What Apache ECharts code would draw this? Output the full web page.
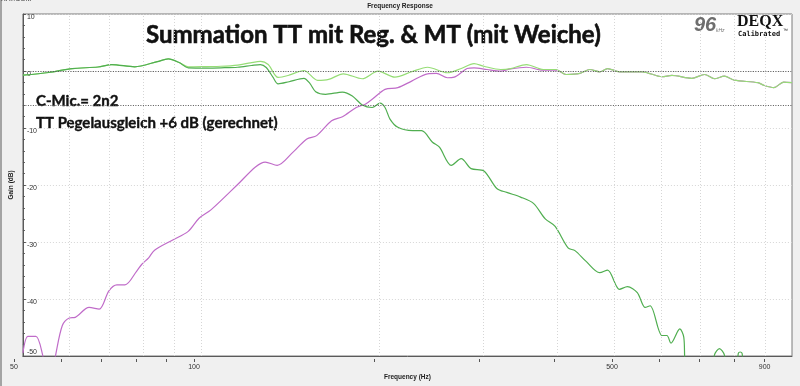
<!DOCTYPE html>
<html><head><meta charset="utf-8">
<script src="https://cdn.jsdelivr.net/npm/echarts@6/dist/echarts.min.js"></script>
<style>html,body{margin:0;padding:0;background:#f0f0f0;}#c{width:800px;height:386px;}</style>
</head><body><div id="c"></div>
<script>
// ---- data (frequency in Hz, gain in dB) ----
const ttFreq = [50, 55.3, 60.6, 67.0, 70.7, 77.3, 84.4, 88.1, 91.9, 95.2, 102.4, 108.1, 115.4, 121.8, 126.1, 129.0, 132.5, 135.1, 141.0, 149.4, 152.9, 156.4, 162.6, 173.6, 180.4, 187.5, 194.9, 201.0, 204.9, 208.9, 215.4, 228.2, 236.3, 246.5, 253.3, 265.2, 275.7, 286.5, 301.2, 316.7, 329.2, 347.4, 365.3, 382.5, 397.5, 418.0, 429.4, 448.0, 472.8, 487.6, 510.7, 526.7, 547.4, 564.5, 575.5, 602.7, 614.4, 624.0, 646.0, 656.0, 661.1, 703.2, 725.3, 739.4, 753.8, 768.4, 783.4, 801.7, 811.0, 817.2, 823.6, 833.1, 1000];
const ttGain = [-0.73, -0.26, 0.43, 0.70, 1.13, 0.73, 1.65, 2.12, 1.48, 0.56, 0.52, 0.56, 0.66, 0.96, 1.13, 0.61, -1.13, -2.26, -1.88, -1.30, -2.17, -3.62, -4.09, -3.69, -4.38, -5.95, -6.40, -5.65, -6.40, -8.43, -9.88, -10.47, -10.47, -12.49, -13.36, -16.56, -15.39, -17.13, -17.53, -20.61, -21.30, -22.12, -23.22, -25.95, -27.27, -31.04, -31.51, -33.36, -35.39, -34.92, -38.30, -37.83, -38.87, -41.48, -41.18, -46.40, -46.40, -47.74, -45.25, -46.70, -52, -55, -55, -49.8, -48.7, -49.8, -55, -55, -49.6, -49.3, -49.6, -55, -55];

const sumFreq = [50, 55.3, 60.6, 67.0, 70.7, 77.3, 84.4, 88.1, 91.9, 95.2, 102.4, 108.1, 115.4, 121.3, 126.1, 130.0, 135.1, 141.0, 149.4, 157.6, 164.5, 174.2, 187.5, 199.4, 212.9, 227.3, 241.8, 261.2, 275.7, 289.8, 301.2, 321.6, 334.3, 355.5, 379.6, 399.1, 414.7, 437.7, 455.0, 472.8, 487.6, 510.7, 558.0, 602.7, 626.5, 676.7, 711.4, 739.4, 768.4, 798.6, 875.9, 896.4, 931.6, 968.2, 1000];
const sumGain = [-0.73, -0.26, 0.43, 0.70, 1.13, 0.73, 1.65, 2.12, 1.48, 0.73, 0.78, 0.83, 1.04, 1.43, 1.70, 1.13, -1.13, -0.73, 0.09, -1.65, -1.48, -0.49, -1.36, -0.03, -1.08, -0.14, 0.66, -0.31, 0.43, 1.30, 0.83, 0.26, 0.43, 1.13, 0.26, 0.26, -0.61, -0.43, 0.26, -0.14, 0.43, -0.14, -0.14, -1.01, -0.78, -1.30, -0.61, -1.36, -0.90, -1.60, -2.05, -2.52, -2.92, -1.95, -2.05];

const mtFreq = [50, 51.0, 52.6, 54.0, 54.6, 56.1, 56.8, 58.3, 59.9, 61.3, 64.7, 67.3, 69.9, 72.1, 74.4, 77.9, 79.4, 81.6, 83.5, 89.8, 95.2, 99.3, 104.0, 115.4, 123.7, 128.5, 134.6, 143.2, 151.1, 157.0, 166.4, 173.6, 183.2, 189.7, 194.9, 204.9, 215.4, 227.3, 241.8, 250.3, 261.2, 268.3, 282.1, 289.8, 304.7, 321.6, 334.3, 355.5, 379.6, 399.1, 414.7, 437.7, 455.0, 472.8, 487.6, 510.7, 558.0, 602.7, 626.5, 676.7, 711.4, 739.4, 768.4, 798.6, 875.9, 896.4, 931.6, 968.2, 1000];
const mtGain = [-49.48, -46.57, -46.57, -49.83, -53, -53, -49.83, -44.66, -43.34, -43.22, -41.48, -41.77, -38.57, -37.53, -37.53, -35.10, -33.95, -32.78, -31.44, -29.60, -28.14, -25.83, -24.37, -19.91, -16.83, -15.97, -16.56, -14.23, -11.91, -11.34, -8.73, -8.03, -6.40, -5.83, -4.96, -3.22, -2.92, -1.77, -0.49, -0.43, -1.18, -1.08, 0.43, 0.56, 0.26, -0.03, 0.38, 0.66, 0.14, 0.14, -0.61, -0.43, 0.26, -0.14, 0.43, -0.14, -0.14, -1.01, -0.78, -1.30, -0.61, -1.36, -0.90, -1.60, -2.05, -2.52, -2.92, -1.95, -2.05];

const gridFreqs = [60, 70, 80, 90, 100, 200, 300, 400, 500, 600, 700, 800, 900];
const tickFreqs = [50, 60, 70, 80, 90, 100, 200, 300, 400, 500, 600, 700, 800, 900];
const xTickLabels = [50, 100, 500, 900];
const refLevels = [0, -6];

const zip = (f, g) => f.map((v, i) => [v, g[i]]);

const chart = echarts.init(document.getElementById('c'));
const curve = (name, f, g, color, z) => ({
  name, type: 'line', data: zip(f, g), symbol: 'none', smooth: 0.3,
  lineStyle: { color, width: 1.2 }, clip: true, z, silent: true
});
const txt = (x, y, text, font, fill, extra) => ({
  type: 'text', x, y, silent: true,
  style: Object.assign({ text, font, fill, verticalAlign: 'middle' }, extra || {})
});

chart.setOption({
  animation: false,
  backgroundColor: '#f0f0f0',
  textStyle: { fontFamily: 'Liberation Sans' },
  grid: [
    { left: 14, right: 8, top: 14, bottom: 27, show: true, backgroundColor: '#ffffff', borderColor: '#7a7a7a', borderWidth: 1 },
    { left: 14, right: 8, top: 359, height: 3 }
  ],
  xAxis: [
    { type: 'log', logBase: 10, min: 50, max: 1000, gridIndex: 0,
      axisLine: { show: true, onZero: false, lineStyle: { color: '#5a5a5a' } },
      axisTick: { show: false }, axisLabel: { show: false }, splitLine: { show: false },
      name: 'Frequency (Hz)', nameLocation: 'middle', nameGap: 18,
      nameTextStyle: { fontSize: 6.5, fontWeight: 'bold', color: '#222' } },
    { type: 'log', logBase: 10, min: 50, max: 1000, gridIndex: 1, show: false }
  ],
  yAxis: [
    { type: 'value', min: -50, max: 10, interval: 10, gridIndex: 0,
      axisLine: { show: true, onZero: false, lineStyle: { color: '#5a5a5a' } },
      axisTick: { show: true, inside: true, length: 3, lineStyle: { color: '#555' } },
      minorTick: { show: true, splitNumber: 5, length: 2, lineStyle: { color: '#555' } },
      axisLabel: { inside: true, margin: 4, fontSize: 7, color: '#333', verticalAlign: 'top',
        verticalAlignMinLabel: 'bottom', verticalAlignMaxLabel: 'top' },
      splitLine: { show: true, lineStyle: { color: '#d6d6d6', type: [1, 2] } },
      name: 'Gain (dB)', nameLocation: 'middle', nameGap: 7, nameRotate: 90,
      nameTextStyle: { fontSize: 6.5, fontWeight: 'bold', color: '#222' } },
    { type: 'value', min: 0, max: 1, gridIndex: 1, show: false }
  ],
  series: [
    { type: 'line', data: [], z: 1, silent: true,
      markLine: { silent: true, symbol: 'none', animation: false, label: { show: false },
        data: gridFreqs.map(f => ({ xAxis: f, lineStyle: { color: '#d6d6d6', type: [1, 2], width: 1 } }))
          .concat(refLevels.map(v => ({ yAxis: v, lineStyle: { color: '#555', type: [1, 1.5], width: 1 } }))) } },
    curve('MT', mtFreq, mtGain, '#c06cc9', 2),
    curve('Summe', sumFreq, sumGain, '#96dd76', 3),
    curve('TT', ttFreq, ttGain, '#50ae50', 4),
    { type: 'line', data: [], xAxisIndex: 1, yAxisIndex: 1, silent: true,
      markLine: { silent: true, symbol: 'none', animation: false,
        lineStyle: { color: '#555', type: 'solid', width: 1 },
        label: { show: true, position: 'start', distance: 2, fontSize: 7, color: '#333',
          formatter: p => xTickLabels.indexOf(p.value) >= 0 ? String(p.value) : '' },
        data: tickFreqs.map(f => ({ xAxis: f })) } }
  ],
  graphic: [
    { type: 'rect', shape: { x: 0, y: 0, width: 2, height: 386 }, style: { fill: '#a4a4a4' }, silent: true },
    txt(1, -1, 'XAT.COM', '7px Liberation Sans', '#333'),
    txt(400, 6, 'Frequency Response', 'bold 6.5px Liberation Sans', '#222', { align: 'center' }),
    txt(146, 35.5, 'Summation TT mit Reg. & MT (mit Weiche)', 'bold 24px Lato', '#111', { stroke: '#111', lineWidth: 0.6 }),
    txt(36, 101, 'C-Mic.= 2n2', 'bold 15px Lato', '#111', { stroke: '#111', lineWidth: 0.4 }),
    txt(36, 123, 'TT Pegelausgleich +6 dB (gerechnet)', 'bold 15px Lato', '#111', { stroke: '#111', lineWidth: 0.4 }),
    txt(694, 25.4, '96', 'italic bold 20px Liberation Sans', '#6e6e6e'),
    txt(716, 30.5, 'kHz', 'italic 5px Liberation Sans', '#777'),
    txt(737, 22.2, 'DEQX', 'bold 16px Liberation Serif', '#111'),
    txt(738, 33.7, 'Calibrated', 'bold 7px DejaVu Sans Mono', '#111'),
    txt(783, 31, '™', '5px Liberation Sans', '#111')
  ]
});
</script></body></html>
